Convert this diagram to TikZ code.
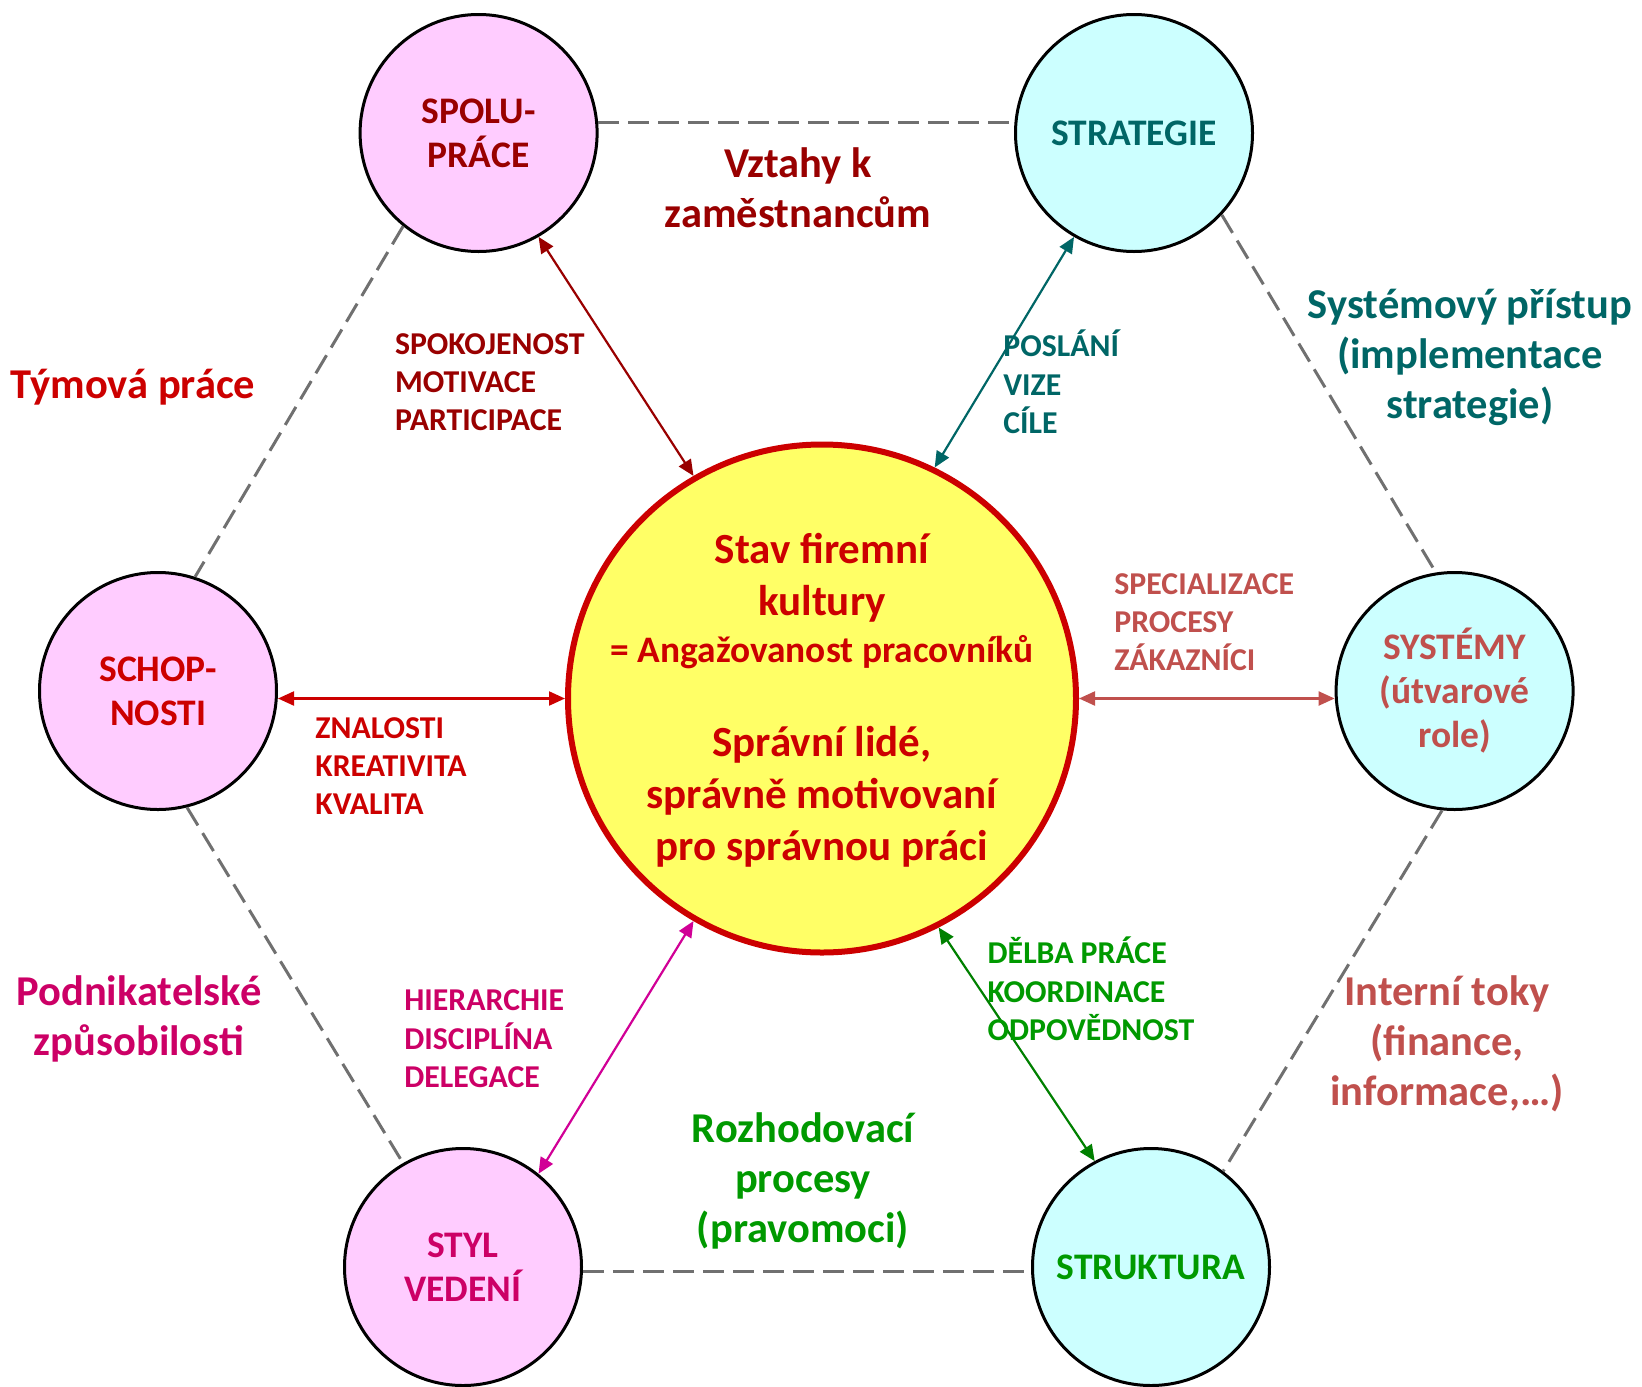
\documentclass[tikz,border=0pt]{standalone}
\usepackage{fontspec}
\setmainfont{Carlito}
\usetikzlibrary{arrows.meta}
\definecolor{dred}{HTML}{990000}
\definecolor{cred}{HTML}{CC0000}
\definecolor{cteal}{HTML}{006666}
\definecolor{csalmon}{HTML}{C0504D}
\definecolor{cmag}{HTML}{CC0066}
\definecolor{cmagA}{HTML}{D10096}
\definecolor{cgreen}{HTML}{009900}
\definecolor{cgreenA}{HTML}{008000}
\definecolor{pinkf}{HTML}{FFCCFF}
\definecolor{cyanf}{HTML}{CCFFFF}
\definecolor{yellowf}{HTML}{FFFF66}
\definecolor{dashg}{HTML}{707070}
\begin{document}
\begin{tikzpicture}[x=1pt,y=-1pt,
  outer/.style={circle, draw=black, line width=3pt, minimum size=237pt, inner sep=0pt, align=center,
    font=\fontsize{37.5}{44}\selectfont\bfseries},
  ctrc/.style={circle, draw=cred, line width=6pt, fill=yellowf, minimum size=508pt, inner sep=0pt},
  dashline/.style={draw=dashg, line width=3pt, dash pattern=on 21pt off 9pt},
  conn/.style={line width=2.2pt, {Triangle[length=16pt,width=14pt]}-{Triangle[length=16pt,width=14pt]}},
  biglab/.style={inner sep=0pt, align=center, font=\fontsize{42.5}{50}\selectfont\bfseries},
  smlab/.style={inner sep=0pt, align=left, anchor=west, font=\fontsize{31.8}{38.3}\selectfont\bfseries},
  ctxt/.style={inner sep=0pt, align=center, text=cred, font=\fontsize{43}{52}\selectfont\bfseries}
]
\useasboundingbox (0,0) rectangle (1642,1387);

% outer circles
\node[outer, fill=pinkf, text=dred] (spolu) at (478.6,133) {SPOLU-\\PRÁCE};
\node[outer, fill=cyanf, text=cteal] (strat) at (1134,133) {STRATEGIE};
\node[outer, fill=pinkf, text=cred] (schop) at (158,691) {SCHOP-\\NOSTI};
\node[outer, fill=cyanf, text=csalmon] (syst) at (1454.6,691) {SYSTÉMY\\(útvarové\\role)};
\node[outer, fill=pinkf, text=cmag] (styl) at (463,1267) {STYL\\VEDENÍ};
\node[outer, fill=cyanf, text=cgreen] (strukt) at (1151,1267) {STRUKTURA};

% central circle
\node[ctrc] (ctr) at (822,698.5) {};
\node[ctxt] (ct1) at (822,578) {Stav firemní\\kultury};
\node[ctxt, font=\fontsize{37.4}{45}\selectfont\bfseries] (ct2) at (822,652) {= Angažovanost pracovníků};
\node[ctxt] (ct3) at (822,797) {Správní lidé,\\správně motivovaní\\pro správnou práci};

% dashed hexagon
\draw[dashline] (spolu.5) -- (strat.175);
\draw[dashline] (spolu.-129) -- (schop.72);
\draw[dashline] (strat.-43) -- (syst.99);
\draw[dashline] (schop.-76) -- (styl.120);
\draw[dashline] (syst.-96) -- (strukt.53);
\draw[dashline] (styl.-2) -- (strukt.182);

% arrows
\draw[conn, dred] (spolu.-60) -- (ctr.120);
\draw[conn, cteal] (strat.-120) -- (ctr.64);
\draw[conn, cred] (ctr.west -| schop.east) -- (ctr.west);
\draw[conn, csalmon] (ctr.east) -- (ctr.east -| syst.west);
\draw[conn, cmagA] (ctr.-120) -- (styl.51);
\draw[conn, cgreenA] (ctr.-63) -- (strukt.118);

% big labels
\node[biglab, text=dred] (vztahy) at (798,188) {Vztahy k\\zaměstnancům};
\node[biglab, text=cred] (tym) at (133,387) {Týmová práce};
\node[biglab, text=cteal] (sysp) at (1470,357) {Systémový přístup\\(implementace\\strategie)};
\node[biglab, text=cmag] (podn) at (139,1019) {Podnikatelské\\způsobilosti};
\node[biglab, text=csalmon] (intt) at (1447,1044) {Interní toky\\(finance,\\informace,…)};
\node[biglab, text=cgreen] (rozh) at (803,1181) {Rozhodovací\\procesy\\(pravomoci)};

% small labels
\node[smlab, text=dred] (l1) at (394.8,382) {SPOKOJENOST\\MOTIVACE\\PARTICIPACE};
\node[smlab, text=cteal] (l2) at (1003.2,382) {POSLÁNÍ\\VIZE\\CÍLE};
\node[smlab, text=csalmon] (l3) at (1114.2,622) {SPECIALIZACE\\PROCESY\\ZÁKAZNÍCI};
\node[smlab, text=cred] (l4) at (315.2,766) {ZNALOSTI\\KREATIVITA\\KVALITA};
\node[smlab, text=cmag] (l5) at (404.2,1038.8) {HIERARCHIE\\DISCIPLÍNA\\DELEGACE};
\node[smlab, text=cgreen] (l6) at (987.5,989) {DĚLBA PRÁCE\\KOORDINACE\\ODPOVĚDNOST};
\end{tikzpicture}
\end{document}
